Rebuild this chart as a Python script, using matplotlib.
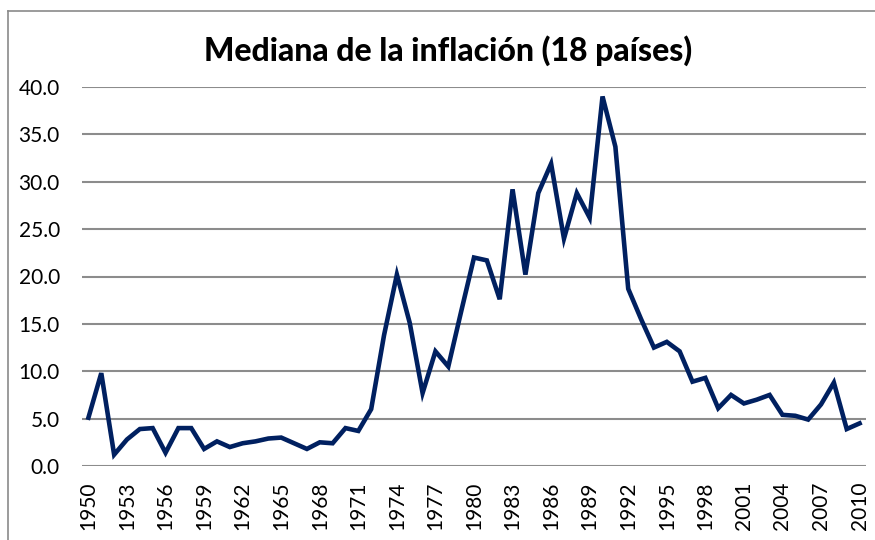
import matplotlib
matplotlib.use("Agg")
import matplotlib.pyplot as plt
from matplotlib.lines import Line2D

# Median inflation, 18 countries, 1950-2010
years = list(range(1950, 2011))
inflation = [
    5.1, 9.8, 1.2, 2.8, 3.9, 4.0, 1.4, 4.0, 4.0, 1.8,
    2.6, 2.0, 2.4, 2.6, 2.9, 3.0, 2.4, 1.8, 2.5, 2.4,
    4.0, 3.7, 6.0, 13.8, 20.2, 15.1, 7.7, 12.1, 10.5, 16.3,
    22.0, 21.7, 17.6, 29.2, 20.2, 28.8, 31.9, 24.0, 28.8, 26.2,
    39.0, 33.7, 18.7, 15.5, 12.5, 13.1, 12.1, 8.9, 9.3, 6.1,
    7.5, 6.6, 7.0, 7.5, 5.4, 5.3, 4.9, 6.5, 8.8, 3.9,
    4.5,
]
tick_years = years[::3]
y_ticks = [0, 5, 10, 15, 20, 25, 30, 35, 40]

plt.rcParams['font.family'] = ['Lato', 'DejaVu Sans']

fig = plt.figure(figsize=(8.75, 5.4), dpi=100)
ax = fig.add_axes([82 / 875, 1 - 466 / 540, (866 - 82) / 875, (466 - 87) / 540])

ax.plot(years, inflation, color='#002060', linewidth=3.3, solid_joinstyle='miter', zorder=3)

ax.set_xlim(1949.5, 2010.5)
ax.set_ylim(0, 40)
ax.set_yticks(y_ticks)
ax.set_yticklabels([f"{v:.1f}" for v in y_ticks])
ax.set_xticks(tick_years)
ax.set_xticklabels([str(y) for y in tick_years], rotation=90)
ax.yaxis.grid(True, color='#8c8c8c', linewidth=1.5)
ax.set_axisbelow(True)
ax.tick_params(axis='both', length=0, labelsize=15, colors='black')
ax.tick_params(axis='y', pad=16)
ax.tick_params(axis='x', pad=11)
for s in ax.spines.values():
    s.set_visible(False)

fig.text(448 / 875, 1 - 51 / 540, "Mediana de la inflación (18 países)", fontsize=23,
         fontweight='black', ha='center', va='center')

# chart border (left and top visible)
fig.add_artist(Line2D([8 / 875, 8 / 875], [0, 1 - 11 / 540], transform=fig.transFigure,
                      color='#8a8a8a', linewidth=1.2))
fig.add_artist(Line2D([8 / 875, 1], [1 - 11 / 540, 1 - 11 / 540], transform=fig.transFigure,
                      color='#8a8a8a', linewidth=1.2))

fig.savefig("out.png", dpi=100)
